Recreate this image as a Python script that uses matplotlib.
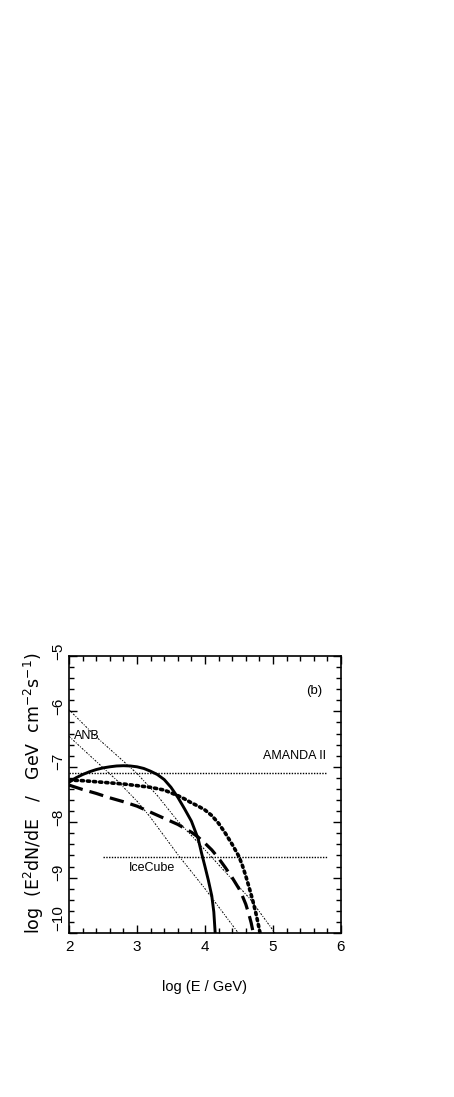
import matplotlib
matplotlib.use("Agg")
import matplotlib.pyplot as plt
from matplotlib.ticker import MultipleLocator
from matplotlib.transforms import ScaledTranslation

plt.rcParams['font.family'] = ['Liberation Sans', 'DejaVu Sans']
plt.rcParams['mathtext.default'] = 'regular'

# solid curve
solid_x = [2.0, 2.1, 2.2, 2.3, 2.4, 2.5, 2.6, 2.7, 2.8, 2.9, 3.0, 3.1, 3.2, 3.3, 3.4,
           3.5, 3.6, 3.7, 3.8, 3.9, 3.95, 4.0, 4.05, 4.1, 4.13, 4.15]
solid_y = [-7.28, -7.20, -7.14, -7.09, -7.05, -7.02, -7.0, -6.985, -6.98, -6.985, -7.0,
           -7.03, -7.08, -7.14, -7.23, -7.37, -7.55, -7.76, -7.98, -8.3, -8.56, -8.8,
           -9.05, -9.33, -9.62, -10.0]

# thick dotted curve
dot_x = [2.0, 2.2, 2.4, 2.6, 2.8, 3.0, 3.2, 3.4, 3.6, 3.7, 3.8, 3.9, 4.0, 4.1, 4.2,
         4.3, 4.4, 4.5, 4.55, 4.6, 4.65, 4.7, 4.75, 4.78, 4.81]
dot_y = [-7.24, -7.25, -7.27, -7.29, -7.31, -7.34, -7.37, -7.42, -7.52, -7.58, -7.65,
         -7.71, -7.78, -7.88, -8.02, -8.2, -8.4, -8.62, -8.78, -8.97, -9.18, -9.4,
         -9.65, -9.82, -10.0]

# thick dashed curve
dash_x = [2.0, 2.2, 2.4, 2.6, 2.8, 3.0, 3.2, 3.4, 3.6, 3.8, 3.9, 4.0, 4.1, 4.2, 4.3,
          4.4, 4.5, 4.55, 4.6, 4.65, 4.68, 4.71]
dash_y = [-7.33, -7.41, -7.48, -7.56, -7.63, -7.71, -7.82, -7.93, -8.04, -8.18, -8.27,
          -8.38, -8.5, -8.65, -8.82, -9.0, -9.2, -9.33, -9.48, -9.68, -9.82, -10.0]

# atmospheric neutrino background (two thin lines)
anb1_x = [2.0, 2.4, 2.7, 3.0, 3.3, 3.6, 4.0, 4.3, 4.66, 5.03]
anb1_y = [-5.97, -6.46, -6.79, -7.12, -7.52, -7.98, -8.5, -8.9, -9.38, -10.0]
anb2_x = [2.0, 2.38, 2.7, 3.0, 3.19, 3.61, 4.0, 4.49]
anb2_y = [-6.45, -6.88, -7.24, -7.62, -7.9, -8.6, -9.2, -10.0]

# detector sensitivities
amanda_x = [2.0, 5.8]
amanda_y = [-7.12, -7.12]
icecube_x = [2.5, 5.8]
icecube_y = [-8.63, -8.63]

ytick_vals = [-10, -9, -8, -7, -6, -5]
ytick_labels = ['\u221210', '\u22129', '\u22128', '\u22127', '\u22126', '\u22125']

fig = plt.figure(figsize=(4.54, 10.97), dpi=100)
ax = fig.add_axes([0.152, 0.1495, 0.599, 0.2525])

ax.plot(solid_x, solid_y, color='black', lw=2.1, solid_joinstyle='round')
ax.plot(dot_x, dot_y, color='black', lw=2.6, linestyle=(0, (0.6, 1.1)),
        dash_capstyle='round')
ax.plot(dash_x, dash_y, color='black', lw=2.3, linestyle=(0, (4.5, 2.2)))
ax.plot(anb1_x, anb1_y, color='black', lw=0.7, linestyle=(0, (2, 1.5, 1, 1.5)))
ax.plot(anb2_x, anb2_y, color='black', lw=0.7, linestyle=(0, (2, 1.5, 1, 1.5)))
ax.plot(amanda_x, amanda_y, color='black', lw=1.0, linestyle=(0, (1, 1)))
ax.plot(icecube_x, icecube_y, color='black', lw=1.0, linestyle=(0, (1, 1)))

ax.text(2.08, -6.45, 'ANB', fontsize=9, va='center', ha='left')
ax.text(5.78, -6.8, 'AMANDA II', fontsize=9, va='center', ha='right')
ax.text(2.88, -8.82, 'IceCube', fontsize=9, va='center', ha='left')
ax.text(5.72, -5.63, '(b)', fontsize=9.5, va='center', ha='right')

ax.set_xlim(2, 6)
ax.set_ylim(-10, -5)
ax.xaxis.set_major_locator(MultipleLocator(1))
ax.xaxis.set_minor_locator(MultipleLocator(0.2))
ax.yaxis.set_minor_locator(MultipleLocator(0.2))
ax.set_yticks(ytick_vals)
ax.set_yticklabels(ytick_labels, rotation=90, va='center')
ax.tick_params(which='both', direction='in', top=True, right=True, width=1.0)
ax.tick_params(which='major', length=6, labelsize=11)
ax.tick_params(axis='x', which='major', pad=5)
ax.tick_params(axis='y', which='major', pad=3)
ax.tick_params(which='minor', length=3.5)
for val, lab in zip(ytick_vals, ax.get_yticklabels()):
    shift = 15 if val == -10 else 5
    lab.set_transform(lab.get_transform() + ScaledTranslation(0, shift / 100, fig.dpi_scale_trans))
for s in ax.spines.values():
    s.set_linewidth(1.2)

ax.set_xlabel('log (E / GeV)', fontsize=10.5)
ax.xaxis.set_label_coords(0.5, -0.17)
ax.set_ylabel('log  (E$^2$dN/dE   /   GeV  cm$^{-2}$s$^{-1}$)', fontsize=12.5,
              family=['DejaVu Sans'])
ax.yaxis.set_label_coords(-0.085, 0.505)

fig.savefig('out.png', dpi=100)
